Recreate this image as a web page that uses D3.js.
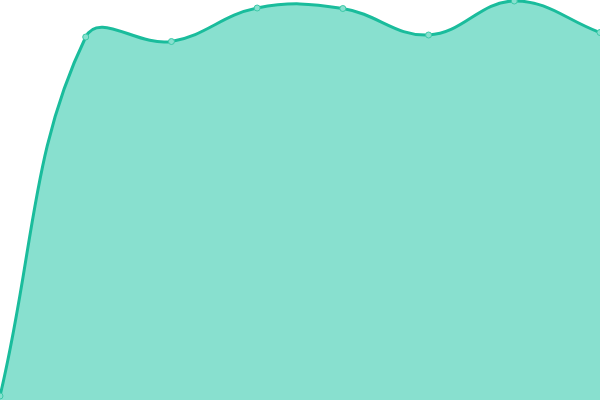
<!DOCTYPE html>
<html>
<head>
<meta charset="utf-8">
<script src="https://cdn.jsdelivr.net/npm/d3@7"></script>
<style>
  body { margin: 0; background: #fff; }
  svg { display: block; }
</style>
</head>
<body>
<svg width="600" height="400"></svg>
<script>
const svg = d3.select('svg');
const width = 600, height = 400;

// data
const categories = ['A', 'B', 'C', 'D', 'E', 'F', 'G', 'H'];
const values = [4, 363, 358.5, 392, 391.5, 365, 399, 367.5];

const x = d3.scalePoint().domain(categories).range([0, width]);
const y = d3.scaleLinear().domain([0, 400]).range([height, 0]);

const data = categories.map(function(c, i) { return { cat: c, val: values[i] }; });

// distance-weighted spline (tension 0.4), control points kept inside the plot
function splineCurve(context) {
  return {
    areaStart: function() { this._line = 0; },
    areaEnd: function() { this._line = NaN; },
    lineStart: function() { this._pts = []; },
    point: function(px, py) { this._pts.push([+px, +py]); },
    lineEnd: function() {
      const p = this._pts, n = p.length, t = 0.4;
      const clampX = function(v) { return Math.max(0, Math.min(width, v)); };
      const clampY = function(v) { return Math.max(0, Math.min(height, v)); };
      if (n) {
        if (this._line) context.lineTo(p[0][0], p[0][1]);
        else context.moveTo(p[0][0], p[0][1]);
        const cps = p.map(function(cur, i) {
          const prev = p[i - 1] || cur, next = p[i + 1] || cur;
          const d01 = Math.hypot(cur[0] - prev[0], cur[1] - prev[1]);
          const d12 = Math.hypot(next[0] - cur[0], next[1] - cur[1]);
          let s01 = d01 / (d01 + d12), s12 = d12 / (d01 + d12);
          if (isNaN(s01)) s01 = 0;
          if (isNaN(s12)) s12 = 0;
          const fa = t * s01, fb = t * s12;
          const dx = next[0] - prev[0], dy = next[1] - prev[1];
          return {
            before: [clampX(cur[0] - fa * dx), clampY(cur[1] - fa * dy)],
            after: [clampX(cur[0] + fb * dx), clampY(cur[1] + fb * dy)]
          };
        });
        for (let i = 0; i < n - 1; i++) {
          context.bezierCurveTo(cps[i].after[0], cps[i].after[1],
            cps[i + 1].before[0], cps[i + 1].before[1], p[i + 1][0], p[i + 1][1]);
        }
      }
      if (this._line || (this._line !== 0 && n === 1)) context.closePath();
      this._line = 1 - this._line;
    }
  };
}

const area = d3.area()
  .x(function(d) { return x(d.cat); })
  .y0(height)
  .y1(function(d) { return y(d.val); })
  .curve(splineCurve);

const line = d3.line()
  .x(function(d) { return x(d.cat); })
  .y(function(d) { return y(d.val); })
  .curve(splineCurve);

svg.append('path')
  .datum(data)
  .attr('d', area)
  .attr('fill', '#88e0cf');

svg.append('path')
  .datum(data)
  .attr('d', line)
  .attr('fill', 'none')
  .attr('stroke', '#1abc9c')
  .attr('stroke-width', 3);

svg.selectAll('circle')
  .data(data)
  .enter()
  .append('circle')
    .attr('cx', function(d) { return x(d.cat); })
    .attr('cy', function(d) { return y(d.val); })
    .attr('r', 3)
    .attr('fill', '#88e0cf')
    .attr('stroke', '#3cc9a8')
    .attr('stroke-width', 1);
</script>
</body>
</html>
